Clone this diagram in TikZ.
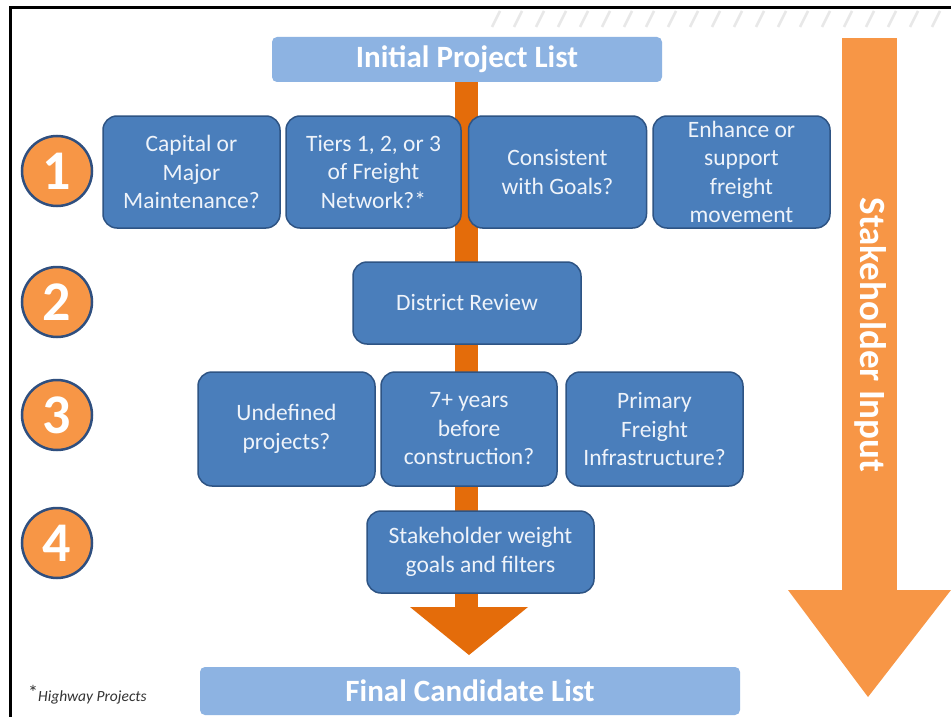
\documentclass[tikz,border=0pt]{standalone}
\usepackage{fontspec}
\setmainfont{Carlito}
\definecolor{boxfill}{HTML}{4A7EBB}
\definecolor{boxline}{HTML}{2E5484}
\definecolor{lightbox}{HTML}{8DB3E2}
\definecolor{darkorange}{HTML}{E46C0A}
\definecolor{lightorange}{HTML}{F79646}
\definecolor{circline}{HTML}{2F4F7F}
\definecolor{boxtext}{HTML}{EEF3FA}
\tikzset{
  qbox/.style={draw=boxline, line width=1.5pt, fill=boxfill, rounded corners=14pt,
    text=boxtext, align=center, font=\fontsize{23.5}{28.5}\selectfont, inner sep=0pt},
  listbox/.style={fill=lightbox, rounded corners=5pt, text=white,
    font=\fontsize{31}{32}\selectfont\bfseries, inner sep=0pt},
  numcirc/.style={circle, draw=circline, line width=2.5pt, fill=lightorange,
    minimum size=70pt, inner sep=0pt, text=white, font=\fontsize{56}{56}\selectfont\bfseries}
}
\begin{document}
\begin{tikzpicture}[x=1pt,y=-1pt]
\useasboundingbox (0,0) rectangle (951,717);
\fill[white] (0,0) rectangle (951,717);
% frame
\draw[line width=3pt, black] (10,717) -- (10,8) -- (951,8);
% hatch
\foreach \i in {0,...,20} {
  \draw[gray!18, line width=2.5pt] ({492+\i*22},27) -- ({500+\i*22},11);
}
% list boxes
\node[listbox, minimum width=390pt, minimum height=45pt] (init) at (467,59.5) {Initial Project List};
\node[listbox, minimum width=540pt, minimum height=48pt] (final) at (470,691) {Final Candidate List};
% central flow arrow (behind boxes)
\fill[darkorange] (455,82) rectangle (478,609);
\fill[darkorange] (410,607) -- (528,607) -- (469,655) -- cycle;
% stakeholder arrow
\fill[lightorange] (842,38) rectangle (897,591) ;
\fill[lightorange] (788,590) -- (951,590) -- (868,697) -- cycle;
\node[rotate=-90, text=white, font=\fontsize{37}{37}\selectfont\bfseries] (stake) at (871,335) {Stakeholder Input};
% row 1
\node[qbox, minimum width=177pt, minimum height=112pt] (b11) at (191.5,172) {Capital or\\Major\\Maintenance?};
\node[qbox, minimum width=175pt, minimum height=112pt] (b12) at (373.5,172) {Tiers 1, 2, or 3\\of Freight\\Network?*};
\node[qbox, minimum width=178pt, minimum height=112pt] (b13) at (557.5,172) {Consistent\\with Goals?};
\node[qbox, minimum width=177pt, minimum height=112pt] (b14) at (741.5,172) {Enhance or\\support\\freight\\movement};
% row 2
\node[qbox, minimum width=228pt, minimum height=82pt] (b21) at (467,303) {District Review};
% row 3
\node[qbox, minimum width=177pt, minimum height=114pt] (b31) at (286.5,429) {Undefined\\projects?};
\node[qbox, minimum width=176pt, minimum height=114pt] (b32) at (469,429) {7+ years\\before\\construction?};
\node[qbox, minimum width=177pt, minimum height=114pt] (b33) at (654.5,429) {Primary\\Freight\\Infrastructure?};
% row 4
\node[qbox, minimum width=227pt, minimum height=82pt] (b41) at (480.5,552) {Stakeholder weight\\goals and filters};
% circles
\node[numcirc] (c1) at (57,171) {1};
\node[numcirc] (c2) at (57,302) {2};
\node[numcirc] (c3) at (57,415) {3};
\node[numcirc] (c4) at (57,543) {4};
% footnote
\node[anchor=west, inner sep=0pt, font=\fontsize{15.5}{16}\selectfont\itshape, text=black!80] (fn) at (28,695) {\raisebox{2pt}{\fontsize{20}{20}\selectfont\upshape *}Highway Projects};
\end{tikzpicture}
\end{document}
